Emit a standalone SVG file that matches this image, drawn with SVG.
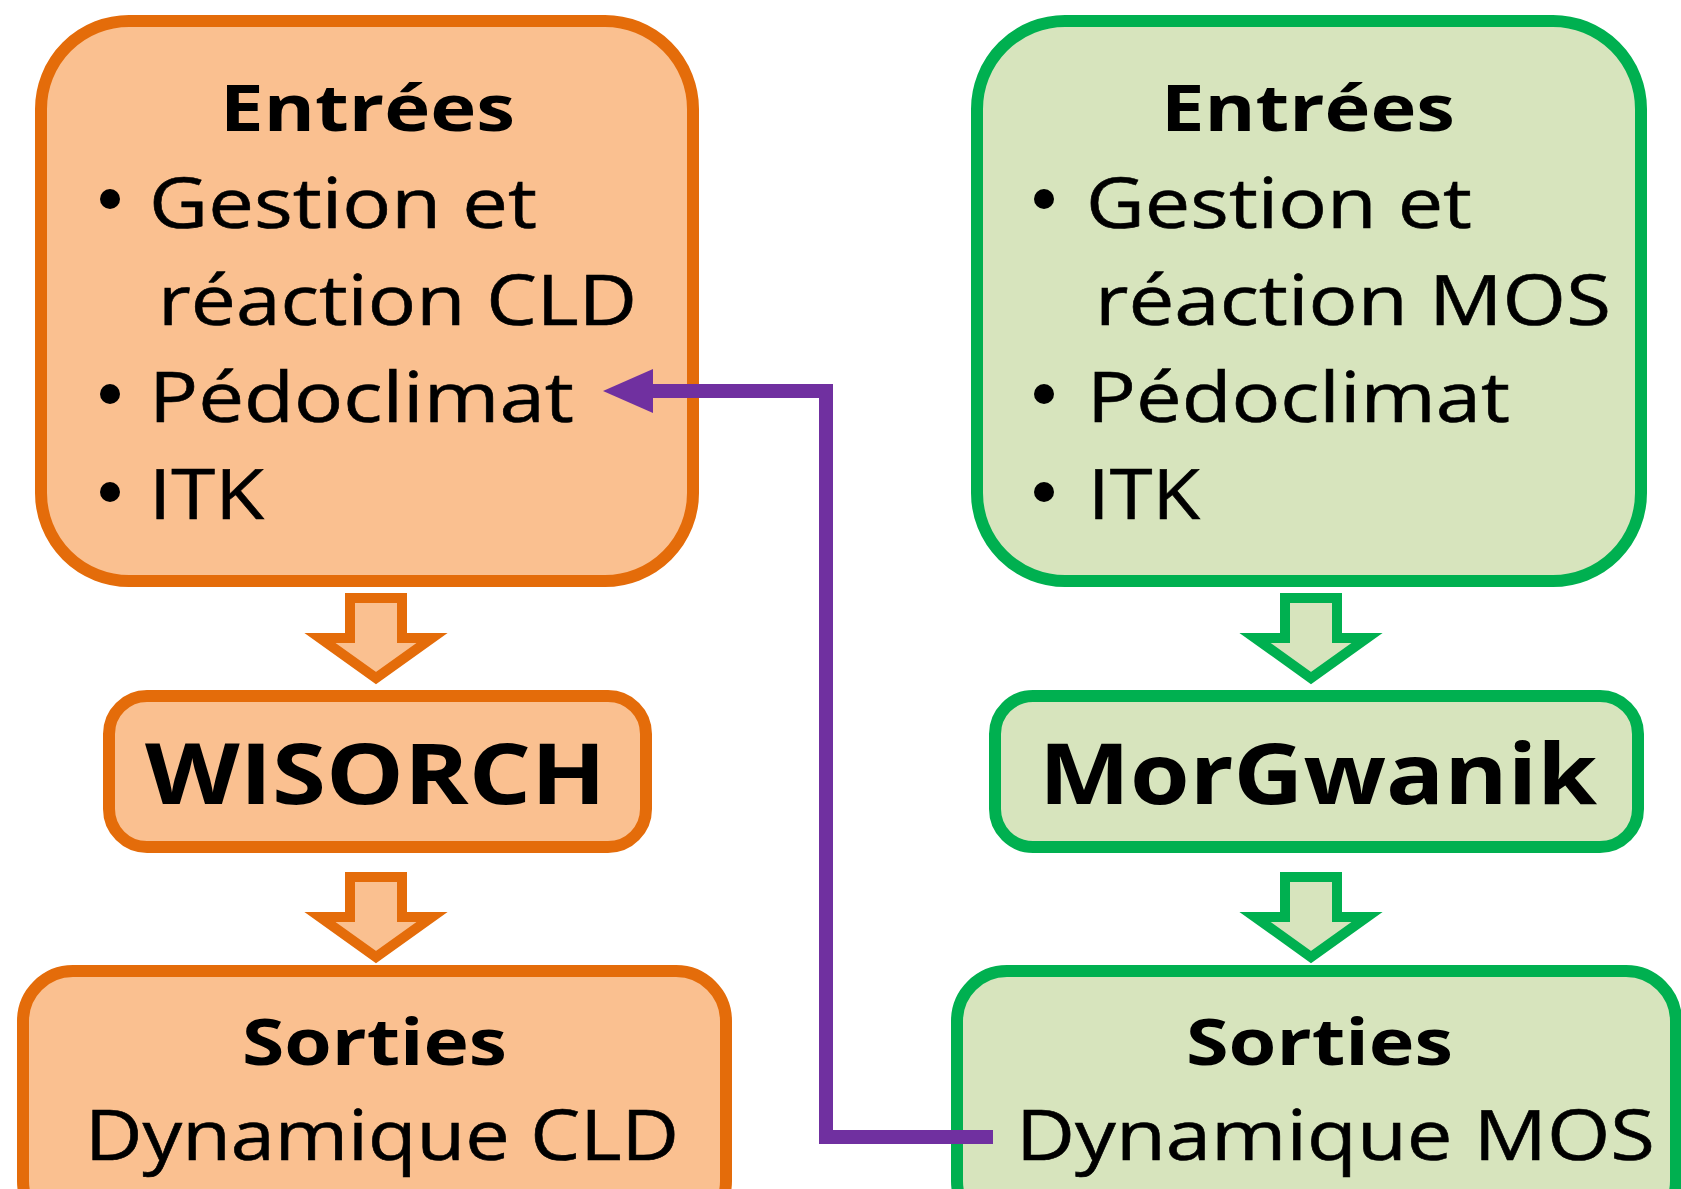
<svg xmlns="http://www.w3.org/2000/svg" width="1681" height="1189" viewBox="0 0 1681 1189">
  <style>
    .o { fill: #FAC090; stroke: #E46C0A; stroke-width: 12; }
    .g { fill: #D7E4BD; stroke: #00B050; stroke-width: 12; }
    .oa { fill: #FAC090; stroke: #E46C0A; stroke-width: 10; stroke-linejoin: miter; }
    .ga { fill: #D7E4BD; stroke: #00B050; stroke-width: 10; stroke-linejoin: miter; }
    text { font-family: "Open Sans", "Noto Sans", "Liberation Sans", sans-serif; fill: #000; }
    .t { font-size: 70px; stroke: #000; stroke-width: 0.6; }
    .h { font-size: 65px; font-weight: 700; }
    .m { font-size: 84px; font-weight: 700; }
    .b { fill: #000; stroke: none; }
    .link { fill: none; stroke: #7030A0; stroke-width: 14; stroke-linejoin: miter; }
  </style>
  <defs>
    <marker id="ah" markerUnits="userSpaceOnUse" markerWidth="52" markerHeight="46" refX="3" refY="22" orient="auto">
      <path d="M0,0 L50,22 L0,44 Z" fill="#7030A0"/>
    </marker>
    <path id="arrow" d="M-26,0 H26 V40 H56 L0,80 L-56,40 H-26 Z"/>
  </defs>
  <rect width="1681" height="1189" fill="#FFFFFF"/>

  <g id="entrees-cld">
    <rect class="o" x="41" y="21" width="652" height="560" rx="88"/>
    <text class="h" x="220" y="131" textLength="295" lengthAdjust="spacingAndGlyphs">Entrées</text>
    <circle class="b" cx="110" cy="199" r="10"/>
    <text class="t" x="149" y="228" textLength="388" lengthAdjust="spacingAndGlyphs">Gestion et</text>
    <text class="t" x="158" y="325" textLength="479" lengthAdjust="spacingAndGlyphs">réaction CLD</text>
    <circle class="b" cx="110" cy="394" r="10"/>
    <text class="t" x="149" y="422" textLength="425" lengthAdjust="spacingAndGlyphs">Pédoclimat</text>
    <circle class="b" cx="110" cy="492" r="10"/>
    <text class="t" x="149" y="519" textLength="115" lengthAdjust="spacingAndGlyphs">ITK</text>
  </g>

  <g id="wisorch">
    <rect class="o" x="109" y="696" width="537" height="151" rx="38"/>
    <text class="m" x="145" y="804" textLength="461" lengthAdjust="spacingAndGlyphs">WISORCH</text>
  </g>

  <g id="sorties-cld">
    <rect class="o" x="23" y="971" width="703" height="260" rx="50"/>
    <text class="h" x="242" y="1065" textLength="265" lengthAdjust="spacingAndGlyphs">Sorties</text>
    <text class="t" x="85" y="1160" textLength="594" lengthAdjust="spacingAndGlyphs">Dynamique CLD</text>
  </g>

  <g id="entrees-mos">
    <rect class="g" x="977" y="21" width="664" height="560" rx="88"/>
    <text class="h" x="1161" y="131" textLength="294" lengthAdjust="spacingAndGlyphs">Entrées</text>
    <circle class="b" cx="1044" cy="199" r="10"/>
    <text class="t" x="1086" y="228" textLength="386" lengthAdjust="spacingAndGlyphs">Gestion et</text>
    <text class="t" x="1095" y="325" textLength="516" lengthAdjust="spacingAndGlyphs">réaction MOS</text>
    <circle class="b" cx="1044" cy="394" r="10"/>
    <text class="t" x="1087" y="422" textLength="423" lengthAdjust="spacingAndGlyphs">Pédoclimat</text>
    <circle class="b" cx="1044" cy="492" r="10"/>
    <text class="t" x="1088" y="519" textLength="112" lengthAdjust="spacingAndGlyphs">ITK</text>
  </g>

  <g id="morgwanik">
    <rect class="g" x="995" y="696" width="643" height="151" rx="38"/>
    <text class="m" x="1039" y="804" textLength="558" lengthAdjust="spacingAndGlyphs">MorGwanik</text>
  </g>

  <g id="sorties-mos">
    <rect class="g" x="957" y="971" width="719" height="260" rx="50"/>
    <text class="h" x="1186" y="1065" textLength="267" lengthAdjust="spacingAndGlyphs">Sorties</text>
    <text class="t" x="1016" y="1160" textLength="639" lengthAdjust="spacingAndGlyphs">Dynamique MOS</text>
  </g>

  <g id="connectors">
    <use href="#arrow" class="oa" transform="translate(376,598)"/>
    <use href="#arrow" class="oa" transform="translate(376,877)"/>
    <use href="#arrow" class="ga" transform="translate(1311,598)"/>
    <use href="#arrow" class="ga" transform="translate(1311,877)"/>
    <path class="link" d="M993,1137 H826 V391 H650" marker-end="url(#ah)"/>
  </g>
</svg>
